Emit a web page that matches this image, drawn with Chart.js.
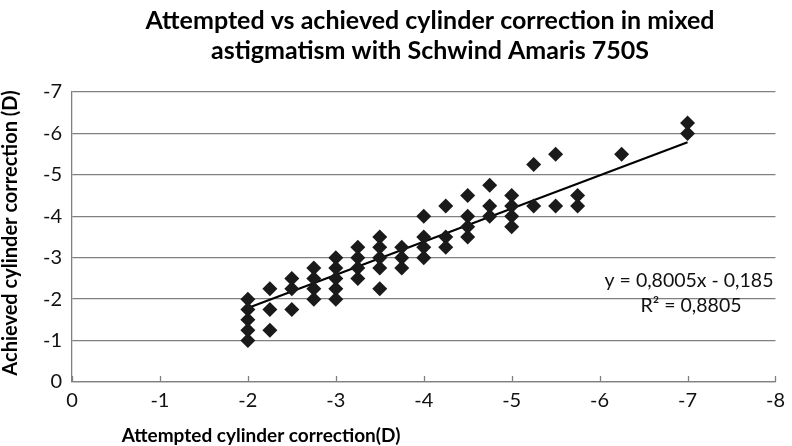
<!DOCTYPE html>
<html>
<head>
<meta charset="utf-8">
<script src="https://cdn.jsdelivr.net/npm/chart.js@4"></script>
<style>
  html, body { margin: 0; padding: 0; background: #fff; }
  #wrap { width: 792px; height: 446px; }
</style>
</head>
<body>
<div id="wrap"><canvas id="cylChart" width="792" height="446"></canvas></div>
<script>
// attempted vs achieved cylinder (D), one entry per eye
var attempted = [-2, -2, -2, -2, -2,
  -2.25, -2.25, -2.25,
  -2.5, -2.5, -2.5,
  -2.75, -2.75, -2.75, -2.75,
  -3, -3, -3, -3, -3,
  -3.25, -3.25, -3.25, -3.25,
  -3.5, -3.5, -3.5, -3.5, -3.5,
  -3.75, -3.75, -3.75,
  -4, -4, -4, -4,
  -4.25, -4.25, -4.25,
  -4.5, -4.5, -4.5, -4.5,
  -4.75, -4.75, -4.75,
  -5, -5, -5, -5,
  -5.25, -5.25,
  -5.5, -5.5,
  -5.75, -5.75,
  -6.25,
  -7, -7];
var achieved = [-2, -1.75, -1.5, -1.25, -1,
  -2.25, -1.75, -1.25,
  -2.5, -2.25, -1.75,
  -2.75, -2.5, -2.25, -2,
  -3, -2.75, -2.5, -2.25, -2,
  -3.25, -3, -2.75, -2.5,
  -3.5, -3.25, -3, -2.75, -2.25,
  -3.25, -3, -2.75,
  -4, -3.5, -3.25, -3,
  -4.25, -3.5, -3.25,
  -4.5, -4, -3.75, -3.5,
  -4.75, -4.25, -4,
  -4.5, -4.25, -4, -3.75,
  -5.25, -4.25,
  -5.5, -4.25,
  -4.5, -4.25,
  -5.5,
  -6.25, -6];

// linear trendline shown on the chart
var slope = 0.8005;
var intercept = -0.185;
var trendX = [-2, -7];

var xTicks = [0, -1, -2, -3, -4, -5, -6, -7, -8];
var yTicks = [0, -1, -2, -3, -4, -5, -6, -7];

var titleLines = ['Attempted vs achieved cylinder correction in mixed', 'astigmatism with Schwind Amaris 750S'];
var xTitle = 'Attempted cylinder correction(D)';
var yTitle = 'Achieved cylinder correction (D)';
var eqLines = ['y = 0,8005x - 0,185', 'R\u00b2 = 0,8805'];

var FONT = 'Lato, "Open Sans", sans-serif';

var pts = attempted.map(function (x, i) { return { x: x, y: achieved[i] }; });
var trend = trendX.map(function (x) { return { x: x, y: slope * x + intercept }; });

// extra text + inside tick marks
var decor = {
  id: 'decor',
  afterDraw: function (chart) {
    var c = chart.ctx, a = chart.chartArea;
    var xs = chart.scales.x;
    c.save();
    // tick marks pointing up from the x axis
    c.strokeStyle = '#808080';
    c.lineWidth = 1.3;
    xTicks.forEach(function (t) {
      var px = Math.round(xs.getPixelForValue(t)) + 0.5;
      c.beginPath();
      c.moveTo(px, a.bottom);
      c.lineTo(px, a.bottom - 6);
      c.stroke();
    });

    c.fillStyle = '#000';
    c.textAlign = 'center';
    c.textBaseline = 'middle';
    c.font = 'bold 25px ' + FONT;
    c.fillText(titleLines[0], 430, 21);
    c.fillText(titleLines[1], 430, 51);

    c.font = 'bold 19px ' + FONT;
    c.fillText(xTitle, 261, 436);
    c.save();
    c.translate(11, 233);
    c.rotate(-Math.PI / 2);
    c.font = 'bold 20px ' + FONT;
    c.fillText(yTitle, 0, 0);
    c.restore();

    c.fillStyle = '#111';
    c.font = '19.5px ' + FONT;
    c.fillText(eqLines[0], 689, 281);
    c.fillText(eqLines[1], 691, 306);
    c.restore();
  }
};

new Chart(document.getElementById('cylChart'), {
  type: 'scatter',
  data: {
    datasets: [{
      label: 'Cylinder',
      data: pts,
      pointStyle: 'rectRot',
      pointRadius: 7.5,
      pointHoverRadius: 7.5,
      backgroundColor: '#1a1a1a',
      borderColor: '#1a1a1a',
      borderWidth: 0
    }, {
      label: 'Trend',
      type: 'line',
      data: trend,
      borderColor: '#000',
      borderWidth: 2,
      pointRadius: 0,
      fill: false
    }]
  },
  options: {
    responsive: false,
    animation: false,
    layout: { padding: { top: 92, right: 9, left: 0, bottom: 0 } },
    plugins: { legend: { display: false }, tooltip: { enabled: false } },
    scales: {
      x: {
        type: 'linear',
        min: -8, max: 0,
        reverse: true,
        afterBuildTicks: function (s) { s.ticks = xTicks.map(function (v) { return { value: v }; }); },
        grid: { display: false, drawTicks: false },
        border: { display: true, color: '#808080', width: 1.3 },
        ticks: { color: '#111', padding: 7, font: { family: FONT, size: 20 }, callback: function (v) { return String(v); } },
        afterFit: function (s) { s.height = 64; }
      },
      y: {
        type: 'linear',
        min: -7, max: 0,
        reverse: true,
        afterBuildTicks: function (s) { s.ticks = yTicks.map(function (v) { return { value: v }; }); },
        grid: { color: '#808080', lineWidth: 1.3, drawTicks: false },
        border: { display: true, color: '#808080', width: 1.3 },
        ticks: { color: '#111', padding: 10, font: { family: FONT, size: 20 }, callback: function (v) { return String(v); } },
        afterFit: function (s) { s.width = 72; }
      }
    }
  },
  plugins: [decor]
});
</script>
</body>
</html>
